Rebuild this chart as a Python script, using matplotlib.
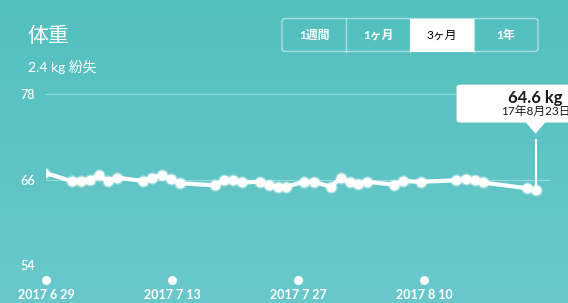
import numpy as np
import pandas as pd
import matplotlib
matplotlib.use("Agg")
import matplotlib.pyplot as plt
import matplotlib.dates as mdates
from matplotlib.colors import LinearSegmentedColormap
from matplotlib.patches import FancyBboxPatch, Polygon, Rectangle

plt.rcParams['font.family'] = ['Lato', 'Noto Sans CJK JP', 'DejaVu Sans']

# ---- data ----
times = [
    "2017-06-29 17:00", "2017-07-02 19:00", "2017-07-03 21:30", "2017-07-04 20:30",
    "2017-07-05 20:30", "2017-07-06 19:00", "2017-07-07 19:00", "2017-07-10 19:00",
    "2017-07-11 19:00", "2017-07-12 20:30", "2017-07-13 20:30", "2017-07-14 20:30",
    "2017-07-18 18:00", "2017-07-19 18:00", "2017-07-20 19:00", "2017-07-21 19:00",
    "2017-07-23 18:00", "2017-07-24 17:00", "2017-07-25 17:00", "2017-07-26 15:30",
    "2017-07-28 15:30", "2017-07-29 17:00", "2017-07-31 14:30", "2017-08-01 17:00",
    "2017-08-02 17:00", "2017-08-03 14:30", "2017-08-04 14:30", "2017-08-07 14:30",
    "2017-08-08 14:30", "2017-08-10 14:30", "2017-08-14 12:00", "2017-08-15 14:30",
    "2017-08-16 14:30", "2017-08-17 12:00", "2017-08-22 09:30", "2017-08-23 09:30",
]
weights = [
    67.0, 65.8, 65.8, 66.0, 66.7, 65.8, 66.3, 65.8, 66.3, 66.6, 66.1, 65.5,
    65.2, 65.9, 65.9, 65.6, 65.7, 65.2, 65.0, 65.0, 65.7, 65.7, 65.0, 66.2,
    65.7, 65.4, 65.7, 65.3, 65.8, 65.7, 65.9, 66.1, 65.9, 65.6, 64.8, 64.6,
]
tick_days = ["2017-06-29", "2017-07-13", "2017-07-27", "2017-08-10"]
tick_labels = ["2017 6 29", "2017 7 13", "2017 7 27", "2017 8 10"]
y_ticks = [54, 66, 78]
periods = ["1週間", "1ヶ月", "3ヶ月", "1年"]
active_period = "3ヶ月"
title = "体重"
subtitle = "2.4 kg 紛失"

W, H = 568, 303


def fx(px):
    return px / W


def fy(py):
    return 1 - py / H


fig = plt.figure(figsize=(W / 100, H / 100), dpi=100)

# background gradient
bg = fig.add_axes([0, 0, 1, 1])
cmap = LinearSegmentedColormap.from_list("bg", ["#6ac8cb", "#52c0be"])
bg.imshow(np.linspace(0, 1, 256).reshape(-1, 1)[::-1], aspect='auto', cmap=cmap,
          extent=[0, 1, 0, 1])
bg.set_xlim(0, 1)
bg.set_ylim(0, 1)
bg.axis('off')

# ---- main plot ----
ax = fig.add_axes([fx(46), fy(265), fx(550) - fx(46), fy(94.3) - fy(265)])
ax.patch.set_alpha(0)
for s in ax.spines.values():
    s.set_visible(False)

x = mdates.date2num(pd.to_datetime(times))
# tick marks sit at the end of the labelled day
xt = mdates.date2num(pd.to_datetime(tick_days) + pd.Timedelta(days=1))
ax.set_xlim(xt[0] - 0.05, xt[0] + 56.0)
ax.set_ylim(54, 78)

ax.set_yticks(y_ticks)
ax.set_yticklabels([str(v) for v in y_ticks], color='white', fontsize=9,
                   fontweight='semibold')
ax.tick_params(axis='y', length=0, pad=8)
ax.grid(axis='y', color='white', alpha=0.35, linewidth=0.8)

ax.set_xticks(xt)
ax.set_xticklabels(tick_labels, color='white', fontsize=9, fontweight='bold')
ax.tick_params(axis='x', length=0, pad=17)
ax.scatter(xt, [-0.088] * len(xt), transform=ax.get_xaxis_transform(), s=30,
           color='white', clip_on=False, zorder=3)

ax.plot(x, weights, color='white', linewidth=3, zorder=4, solid_capstyle='round')
ax.plot(x, weights, 'o', color='white', markersize=9, alpha=0.35, zorder=4,
        markeredgewidth=0)
ax.plot(x, weights, 'o', color='white', markersize=7, zorder=5, markeredgewidth=0)

# ---- tooltip on the last point ----
fig.canvas.draw()
px_, py_ = ax.transData.transform((x[-1], weights[-1]))
tx, ty = px_, H - py_
ax.plot([x[-1], x[-1]], [weights[-1], weights[-1] + 50 / 7.125], color='white',
        linewidth=1.5, zorder=4, clip_on=False)
box = FancyBboxPatch((fx(tx - 79), fy(ty - 67)), fx(140), fy(0) - fy(38),
                     boxstyle="round,pad=0,rounding_size=0.008",
                     transform=fig.transFigure, facecolor='white', edgecolor='none',
                     zorder=10)
fig.add_artist(box)
tri = Polygon([(fx(tx - 10), fy(ty - 67.5)), (fx(tx + 10), fy(ty - 67.5)),
               (fx(tx), fy(ty - 56))], closed=True, transform=fig.transFigure,
              facecolor='white', edgecolor='none', zorder=10)
fig.add_artist(tri)
last = pd.to_datetime(times[-1])
fig.text(fx(tx), fy(ty - 92), f"{weights[-1]:.1f} kg", ha='center', va='center',
         fontsize=12, fontweight='bold', color='#1a1a1a', zorder=11)
fig.text(fx(tx), fy(ty - 78), f"{last.year % 100}年{last.month}月{last.day}日",
         ha='center', va='center', fontsize=8.5, color='#1a1a1a', zorder=11)

# ---- header ----
fig.text(fx(27), fy(36), title, ha='left', va='center', fontsize=15, color='white')
fig.text(fx(28), fy(67), subtitle, ha='left', va='center', fontsize=10, color='white')

# period selector
bx0, bx1, by0, by1 = 282, 538, 18.5, 51.5
seg = (bx1 - bx0) / len(periods)
for i, p in enumerate(periods):
    cx = bx0 + seg * (i + 0.5)
    if p == active_period:
        fig.add_artist(Rectangle((fx(bx0 + seg * i), fy(by1)), seg / W, (by1 - by0) / H,
                                 transform=fig.transFigure, facecolor='white',
                                 edgecolor='none', zorder=5))
        col = 'black'
    else:
        col = 'white'
    fig.text(fx(cx), fy((by0 + by1) / 2), p, ha='center', va='center', fontsize=8.5,
             fontweight='bold' if col == 'white' else 'normal', color=col, zorder=6)
    if 0 < i:
        fig.add_artist(plt.Line2D([fx(bx0 + seg * i)] * 2, [fy(by0), fy(by1)],
                                  transform=fig.transFigure, color='white', alpha=0.5,
                                  linewidth=1, zorder=6))
fig.add_artist(FancyBboxPatch((fx(bx0), fy(by1)), (bx1 - bx0) / W, (by1 - by0) / H,
                              boxstyle="round,pad=0,rounding_size=0.008",
                              transform=fig.transFigure, facecolor='none',
                              edgecolor='white', alpha=0.5, linewidth=1, zorder=6))

fig.savefig("out.png", dpi=100)
